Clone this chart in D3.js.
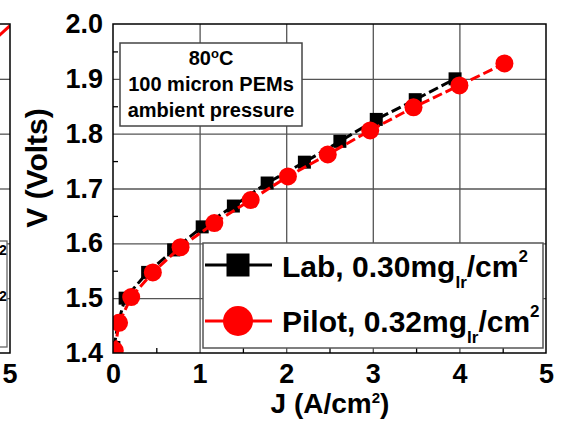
<!DOCTYPE html>
<html>
<head>
<meta charset="utf-8">
<script src="https://cdn.jsdelivr.net/npm/d3@7"></script>
<style>
  body { margin: 0; background: #fff; }
  svg { display: block; font-family: "Liberation Sans", Arial, sans-serif; font-weight: bold; }
</style>
</head>
<body>
<div id="chart"></div>
<script>
// values
const labJ = [0.01, 0.06, 0.14, 0.40, 0.70, 1.03, 1.39, 1.78, 2.21, 2.62, 3.04, 3.49, 3.95];
const labV = [1.41, 1.455, 1.500, 1.547, 1.588, 1.630, 1.668, 1.710, 1.748, 1.786, 1.826, 1.862, 1.900];
const pilotJ = [0.02, 0.07, 0.21, 0.46, 0.78, 1.17, 1.59, 2.02, 2.48, 2.97, 3.47, 4.00, 4.52];
const pilotV = [1.405, 1.455, 1.502, 1.547, 1.593, 1.637, 1.679, 1.722, 1.762, 1.806, 1.848, 1.888, 1.928];
// piece of the neighbouring panel at the left edge
const leftJ = [4.8, 5.0];
const leftV = [1.968, 1.997];

const xTicks = [0, 1, 2, 3, 4, 5];
const xMinor = [0.5, 1.5, 2.5, 3.5, 4.5];
const yTicks = [1.4, 1.5, 1.6, 1.7, 1.8, 1.9, 2.0];
const yMinor = [1.45, 1.55, 1.65, 1.75, 1.85, 1.95];
const boxLines = ["80", "100 micron PEMs", "ambient pressure"];

const width = 562;
const height = 424;
const mLeft = 113, mRight = 546, mTop = 24, mBottom = 353;

const svg = d3.select("#chart").append("svg")
    .attr("width", width)
    .attr("height", height);

const x = d3.scaleLinear().domain([0, 5]).range([mLeft, mRight]);
const y = d3.scaleLinear().domain([1.4, 2.0]).range([mBottom, mTop]);
const xL = d3.scaleLinear().domain([0, 5]).range([10 - (mRight - mLeft), 10]);

const gridColor = "#555";

// ---- left fragment panel
svg.append("clipPath").attr("id", "clipL")
    .append("rect").attr("x", -10).attr("y", mTop).attr("width", 20).attr("height", mBottom - mTop);

svg.append("g")
    .attr("transform", "translate(10,0)")
    .call(d3.axisLeft(y).tickValues(yTicks.slice(1, -1)).tickSize(20).tickFormat(""))
    .call(g => g.select(".domain").remove())
    .call(g => g.selectAll("line").attr("stroke", gridColor).attr("stroke-width", 1.3));

svg.append("rect")
    .attr("x", -5).attr("y", 241).attr("width", 12).attr("height", 106)
    .attr("fill", "#fff").attr("stroke", "#666").attr("stroke-width", 1.3);
[255, 301].forEach(b => {
    svg.append("text").attr("x", -1).attr("y", b)
        .attr("font-size", 14).text("2");
});

svg.append("path")
    .datum(leftJ.map((d, i) => [d, leftV[i]]))
    .attr("clip-path", "url(#clipL)")
    .attr("fill", "none").attr("stroke", "red").attr("stroke-width", 3)
    .attr("d", d3.line().x(d => xL(d[0])).y(d => y(d[1])));

svg.append("path")
    .attr("d", `M0,${mTop}H10V${mBottom}H0`)
    .attr("fill", "none").attr("stroke", "#000").attr("stroke-width", 1.5);

svg.append("text").attr("x", 10).attr("y", 383)
    .attr("text-anchor", "middle").attr("font-size", 27).text("5");

// ---- main panel grid
svg.append("g")
    .attr("transform", `translate(0,${mBottom})`)
    .call(d3.axisBottom(x).tickValues(xTicks.slice(1, -1)).tickSize(-(mBottom - mTop)).tickFormat(""))
    .call(g => g.select(".domain").remove())
    .call(g => g.selectAll("line").attr("stroke", gridColor).attr("stroke-width", 1.3));

svg.append("g")
    .attr("transform", `translate(${mLeft},0)`)
    .call(d3.axisLeft(y).tickValues(yTicks.slice(1, -1)).tickSize(-(mRight - mLeft)).tickFormat(""))
    .call(g => g.select(".domain").remove())
    .call(g => g.selectAll("line").attr("stroke", gridColor).attr("stroke-width", 1.3));

// minor ticks
svg.append("g")
    .attr("transform", `translate(0,${mBottom})`)
    .call(d3.axisBottom(x).tickValues(xMinor).tickSize(-5).tickFormat(""))
    .call(g => g.select(".domain").remove())
    .call(g => g.selectAll("line").attr("stroke", "#000").attr("stroke-width", 1.3));

svg.append("g")
    .attr("transform", `translate(${mLeft},0)`)
    .call(d3.axisLeft(y).tickValues(yMinor).tickSize(-5).tickFormat(""))
    .call(g => g.select(".domain").remove())
    .call(g => g.selectAll("line").attr("stroke", "#000").attr("stroke-width", 1.3));

// annotation box
svg.append("rect")
    .attr("x", 120).attr("y", 43).attr("width", 182).attr("height", 83)
    .attr("fill", "#fff").attr("stroke", "#444").attr("stroke-width", 1.5);

const t0 = svg.append("text").attr("x", 211).attr("y", 65)
    .attr("text-anchor", "middle").attr("font-size", 20);
t0.append("tspan").text(boxLines[0]);
t0.append("tspan").attr("font-size", 13).attr("dy", -7).text("o");
t0.append("tspan").attr("dy", 7).text("C");
svg.append("text").attr("x", 211).attr("y", 91)
    .attr("text-anchor", "middle").attr("font-size", 20).text(boxLines[1]);
svg.append("text").attr("x", 211).attr("y", 117)
    .attr("text-anchor", "middle").attr("font-size", 20).text(boxLines[2]);

// ---- data
svg.append("clipPath").attr("id", "clipM")
    .append("rect").attr("x", mLeft).attr("y", mTop).attr("width", mRight - mLeft).attr("height", mBottom - mTop);

const plot = svg.append("g").attr("clip-path", "url(#clipM)");

const lab = labJ.map((d, i) => [d, labV[i]]);
const pilot = pilotJ.map((d, i) => [d, pilotV[i]]);
const line = d3.line().x(d => x(d[0])).y(d => y(d[1]));

plot.append("path").datum(lab)
    .attr("fill", "none").attr("stroke", "#000").attr("stroke-width", 3)
    .attr("stroke-dasharray", "10,4")
    .attr("d", line);

plot.selectAll(".lab").data(lab).join("rect")
    .attr("class", "lab")
    .attr("x", d => x(d[0]) - 6.5).attr("y", d => y(d[1]) - 6.5)
    .attr("width", 13).attr("height", 13)
    .attr("fill", "#000");

plot.append("path").datum(pilot)
    .attr("fill", "none").attr("stroke", "red").attr("stroke-width", 3)
    .attr("stroke-dasharray", "10,4")
    .attr("d", line);

plot.selectAll(".pilot").data(pilot).join("circle")
    .attr("class", "pilot")
    .attr("cx", d => x(d[0])).attr("cy", d => y(d[1]))
    .attr("r", 9)
    .attr("fill", "red");

// ---- legend
svg.append("rect")
    .attr("x", 203).attr("y", 243).attr("width", 340).attr("height", 105)
    .attr("fill", "#fff").attr("stroke", "#555").attr("stroke-width", 1.5);

svg.append("line").attr("x1", 205).attr("x2", 272).attr("y1", 265).attr("y2", 265)
    .attr("stroke", "#000").attr("stroke-width", 3);
svg.append("rect").attr("x", 238 - 11.5).attr("y", 265 - 11.5)
    .attr("width", 23).attr("height", 23).attr("fill", "#000");

svg.append("line").attr("x1", 205).attr("x2", 272).attr("y1", 321).attr("y2", 321)
    .attr("stroke", "red").attr("stroke-width", 3);
svg.append("circle").attr("cx", 238).attr("cy", 321).attr("r", 15).attr("fill", "red");

function legendText(yb, label) {
    const t = svg.append("text").attr("x", 282).attr("y", yb).attr("font-size", 30);
    t.append("tspan").text(label);
    t.append("tspan").attr("font-size", 17).attr("dy", 11).text("Ir");
    t.append("tspan").attr("dy", -11).text("/cm");
    t.append("tspan").attr("font-size", 17).attr("dy", -15).text("2");
}
legendText(277, "Lab, 0.30mg");
legendText(332, "Pilot, 0.32mg");

// ---- frame and tick labels
svg.append("rect")
    .attr("x", mLeft).attr("y", mTop).attr("width", mRight - mLeft).attr("height", mBottom - mTop)
    .attr("fill", "none").attr("stroke", "#000").attr("stroke-width", 1.5);

svg.append("g")
    .attr("transform", `translate(0,${mBottom})`)
    .call(d3.axisBottom(x).tickValues(xTicks).tickSize(0).tickPadding(11).tickFormat(d3.format("d")))
    .call(g => g.select(".domain").remove())
    .call(g => g.selectAll("text")
        .attr("font-size", 27).attr("font-weight", "bold")
        .attr("font-family", "Liberation Sans, Arial, sans-serif").attr("fill", "#000"));

svg.append("g")
    .attr("transform", `translate(${mLeft},0)`)
    .call(d3.axisLeft(y).tickValues(yTicks).tickSize(0).tickPadding(10).tickFormat(d3.format(".1f")))
    .call(g => g.select(".domain").remove())
    .call(g => g.selectAll("text")
        .attr("font-size", 27).attr("font-weight", "bold")
        .attr("font-family", "Liberation Sans, Arial, sans-serif").attr("fill", "#000"));

// axis titles
svg.append("text")
    .attr("transform", "translate(47,168) rotate(-90)")
    .attr("text-anchor", "middle").attr("font-size", 30)
    .text("V (Volts)");

const xt = svg.append("text").attr("x", 330).attr("y", 413)
    .attr("text-anchor", "middle").attr("font-size", 28);
xt.append("tspan").text("J (A/cm");
xt.append("tspan").attr("font-size", 15).attr("dy", -10).text("2");
xt.append("tspan").attr("dy", 10).text(")");
</script>
</body>
</html>
